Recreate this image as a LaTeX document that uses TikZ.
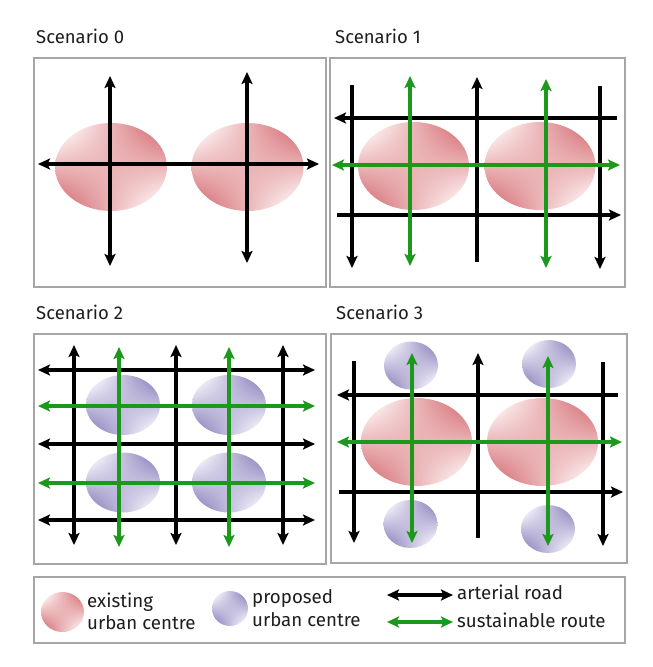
\documentclass[tikz,border=0pt]{standalone}
\usepackage{fontspec}
\setmainfont{Fira Sans}
\usetikzlibrary{arrows.meta}
\pgfdeclarefunctionalshading{redsaddle}{\pgfpoint{-50bp}{-50bp}}{\pgfpoint{50bp}{50bp}}{}{
  mul 380 div
  dup -0.07 mul 0.92 add exch
  dup -0.23 mul 0.71 add exch
  -0.22 mul 0.72 add
}
\pgfdeclarefunctionalshading{bluesaddle}{\pgfpoint{-50bp}{-50bp}}{\pgfpoint{50bp}{50bp}}{}{
  mul 380 div
  dup -0.19 mul 0.77 add exch
  dup -0.20 mul 0.75 add exch
  -0.11 mul 0.87 add
}
\definecolor{routegreen}{RGB}{28,152,28}
\definecolor{framegray}{RGB}{166,166,166}
\definecolor{txt}{RGB}{30,30,30}
\tikzset{
  tip/.tip={Stealth[length=12pt,width=11pt,inset=2.5pt]},
  road/.style={line width=4pt, black},
  green route/.style={line width=4pt, routegreen},
  frame/.style={draw=framegray, line width=1.8pt},
  title/.style={anchor=base west, inner sep=0pt, text=txt, font=\fontsize{18.5}{20}\selectfont},
  legtext/.style={anchor=base west, inner sep=0pt, text=txt, font=\fontsize{18.7}{20}\selectfont},
  existing/.style={shading=redsaddle},
  proposed/.style={shading=bluesaddle},
}
\begin{document}
\begin{tikzpicture}[x=1pt,y=-1pt]
\useasboundingbox[fill=white] (0,0) rectangle (653,667);
% frames
\draw[frame] (34,58) rectangle (326,287);
\draw[frame] (330,58) rectangle (625,287);
\draw[frame] (34,334) rectangle (326,564);
\draw[frame] (331,334) rectangle (627,563);
\draw[frame] (34,577) rectangle (625,643);
% titles
\node[title] (t0) at (36,43.5) {Scenario 0};
\node[title] (t1) at (335,43.5) {Scenario 1};
\node[title] (t2) at (36,319) {Scenario 2};
\node[title] (t3) at (336,319) {Scenario 3};
% ---- Scenario 0
\shade[existing] (111,167) ellipse [x radius=56, y radius=44];
\shade[existing] (247.5,167) ellipse [x radius=56, y radius=44];
\draw[road,tip-tip] (38,164) -- (319,164);
\draw[road,tip-tip] (110,76) -- (110,266);
\draw[road,tip-tip] (247,72) -- (247,263);
% ---- Scenario 1
\shade[existing] (413.5,166) ellipse [x radius=55.5, y radius=44];
\shade[existing] (540,166) ellipse [x radius=55.5, y radius=44];
\draw[road,-tip] (352,85) -- (352,268);
\draw[road,-tip] (477,262) -- (477,77);
\draw[road,-tip] (600,86) -- (600,269);
\draw[road,-tip] (617,118) -- (334,118);
\draw[road,-tip] (337,215) -- (621,215);
\draw[green route,tip-tip] (410,76) -- (410,266);
\draw[green route,tip-tip] (546,79) -- (546,268);
\draw[green route,tip-tip] (332,165) -- (620,165);
% ---- Scenario 2
\foreach \cx in {123,229}{
  \foreach \cy in {405,482.5}{
    \shade[proposed] (\cx,\cy) ellipse [x radius=37, y radius=30];
  }
}
\foreach \xx in {74,176,283}{
  \draw[road,tip-tip] (\xx,345) -- (\xx,545);
}
\foreach \yy in {370,444,520}{
  \draw[road,tip-tip] (38,\yy) -- (315,\yy);
}
\foreach \xx in {119,229}{
  \draw[green route,tip-tip] (\xx,347) -- (\xx,547);
}
\foreach \yy in {406,483}{
  \draw[green route,tip-tip] (38,\yy) -- (315,\yy);
}
% ---- Scenario 3
\shade[proposed] (411,365.5) ellipse [x radius=27, y radius=24];
\shade[proposed] (549,364) ellipse [x radius=27, y radius=24];
\shade[proposed] (410.5,524) ellipse [x radius=27, y radius=24];
\shade[proposed] (548,529) ellipse [x radius=27, y radius=24];
\shade[existing] (416.5,442) ellipse [x radius=55.5, y radius=44];
\shade[existing] (542.5,442) ellipse [x radius=55.5, y radius=44];
\draw[road,-tip] (354,361) -- (354,543);
\draw[road,-tip] (478,538) -- (478,353);
\draw[road,-tip] (603,362) -- (603,546);
\draw[road,-tip] (618,395) -- (337,395);
\draw[road,-tip] (339,492) -- (623,492);
\draw[green route,tip-tip] (412,353) -- (412,543);
\draw[green route,tip-tip] (548,356) -- (548,546);
\draw[green route,tip-tip] (337,442) -- (622,442);
% ---- Legend
\shade[existing] (62.5,612) ellipse [x radius=21.5, y radius=20];
\node[legtext] (l1) at (87,607) {existing};
\node[legtext] (l2) at (87,629) {urban centre};
\shade[proposed] (230,608.5) ellipse [x radius=18, y radius=17.5];
\node[legtext] (l3) at (252,603) {proposed};
\node[legtext] (l4) at (252,626) {urban centre};
\draw[road,tip-tip] (387,595) -- (453,595);
\draw[green route,tip-tip] (387,622) -- (453,622);
\node[legtext] (l5) at (457,599) {arterial road};
\node[legtext] (l6) at (457,627) {sustainable route};
\end{tikzpicture}
\end{document}
